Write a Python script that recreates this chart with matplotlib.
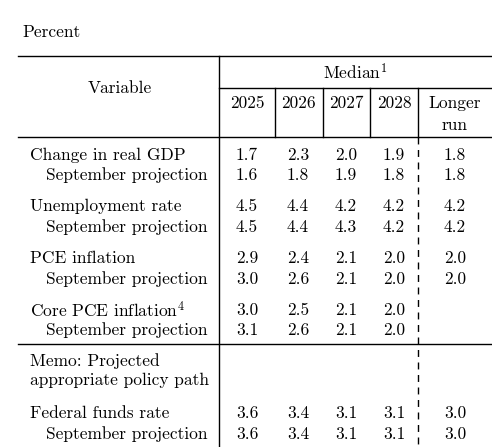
import matplotlib
matplotlib.use("Agg")
import matplotlib.pyplot as plt

years = ["2025", "2026", "2027", "2028"]
row_labels = ["Change in real GDP", "September projection",
              "Unemployment rate", "September projection",
              "PCE inflation", "September projection",
              "Core PCE inflation$^4$", "September projection",
              "Federal funds rate", "September projection"]
values = [["1.7", "2.3", "2.0", "1.9"], ["1.6", "1.8", "1.9", "1.8"],
          ["4.5", "4.4", "4.2", "4.2"], ["4.5", "4.4", "4.3", "4.2"],
          ["2.9", "2.4", "2.1", "2.0"], ["3.0", "2.6", "2.1", "2.0"],
          ["3.0", "2.5", "2.1", "2.0"], ["3.1", "2.6", "2.1", "2.0"],
          ["3.6", "3.4", "3.1", "3.1"], ["3.6", "3.4", "3.1", "3.1"]]
longer_run = ["1.8", "1.8", "4.2", "4.2", "2.0", "2.0", "", "", "3.0", "3.0"]
row_y = [155, 175, 206, 227, 258, 279, 310, 330, 413, 434]

plt.rcParams['font.family'] = ['cmr10', 'DejaVu Serif']
plt.rcParams['mathtext.fontset'] = 'cm'
plt.rcParams['axes.unicode_minus'] = False

fig = plt.figure(figsize=(4.92, 4.47), dpi=100)
ax = fig.add_axes([0, 0, 1, 1])
ax.set_xlim(0, 492)
ax.set_ylim(447, 0)
ax.axis('off')

fs = 12.5
lw = 1.0
ax.text(22, 32, "Percent", fontsize=fs, va='center')
# rules
ax.plot([18, 492], [56, 56], color='black', lw=lw)
ax.plot([18, 492], [137, 137], color='black', lw=lw)
ax.plot([18, 492], [344, 344], color='black', lw=lw)
ax.plot([219, 492], [88, 88], color='black', lw=lw)
ax.plot([219, 219], [56, 447], color='black', lw=lw)
for x in [275, 323, 370, 418]:
    ax.plot([x, x], [88, 137], color='black', lw=lw)
ax.plot([418, 418], [137, 447], color='black', lw=lw, ls=(0, (5, 4)))

ax.text(120, 88, "Variable", fontsize=fs, ha='center', va='center')
ax.text(355, 72, "Median$^1$", fontsize=fs, ha='center', va='center')
col_x = [247, 298, 346, 394]
for x, yr in zip(col_x, years):
    ax.text(x, 103, yr, fontsize=fs, ha='center', va='center')
ax.text(455, 103, "Longer", fontsize=fs, ha='center', va='center')
ax.text(455, 125, "run", fontsize=fs, ha='center', va='center')

for i, (lab, y) in enumerate(zip(row_labels, row_y)):
    x0 = 46 if lab.startswith("September") else 30
    ax.text(x0, y, lab, fontsize=fs, va='center')
    for x, v in zip(col_x, values[i]):
        ax.text(x, y, v, fontsize=fs, ha='center', va='center')
    ax.text(455, y, longer_run[i], fontsize=fs, ha='center', va='center')

ax.text(30, 361, "Memo: Projected", fontsize=fs, va='center')
ax.text(30, 380, "appropriate policy path", fontsize=fs, va='center')

fig.savefig("out.png", dpi=100)
